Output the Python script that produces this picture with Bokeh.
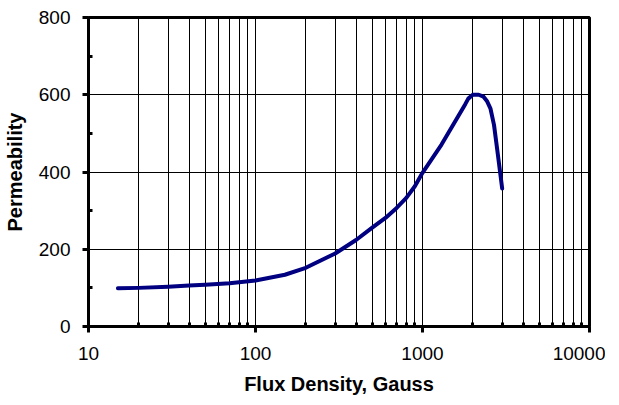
from bokeh.plotting import figure
from bokeh.models import FixedTicker, BasicTickFormatter, Range1d
from bokeh.embed import file_html
from bokeh.resources import INLINE

flux = [15, 20, 30, 40, 50, 70, 100, 150, 200, 300, 400, 500, 600, 700, 800, 900,
        1000, 1300, 1800, 1880, 2000, 2170, 2320, 2430, 2550, 2680, 2800, 3000]
perm = [99, 100, 103, 106, 108, 112, 119, 134, 152, 189, 224, 256, 281, 307, 333, 363,
        398, 471, 575, 590, 600, 600, 595, 584, 565, 522, 459, 357]

x_major = [10, 100, 1000, 10000]
x_minor = [m * d for d in (10, 100, 1000) for m in range(2, 10)]
y_major = [0, 200, 400, 600, 800]
y_minor = [100, 300, 500, 700]

FONT = "Liberation Sans"

p = figure(x_axis_type="log", x_range=Range1d(10, 10000), y_range=Range1d(0, 800),
           frame_width=501, frame_height=309, min_border_left=86, min_border_right=16,
           min_border_top=17, min_border_bottom=62,
           output_backend="svg", toolbar_location=None)

p.line(flux, perm, line_color="#000080", line_width=4, line_join="round", line_cap="round")

p.outline_line_color = "black"
p.outline_line_width = 3
p.background_fill_color = "white"
p.border_fill_color = "white"

p.xaxis.ticker = FixedTicker(ticks=x_major, minor_ticks=x_minor)
p.yaxis.ticker = FixedTicker(ticks=y_major, minor_ticks=y_minor)
p.xaxis.formatter = BasicTickFormatter(use_scientific=False)

for ax in (p.xaxis, p.yaxis):
    ax.axis_line_width = 3
    ax.axis_line_color = "black"
    ax.major_tick_line_width = 3
    ax.minor_tick_line_width = 3
    ax.major_tick_out = 6
    ax.major_tick_in = 0
    ax.minor_tick_out = 0
    ax.minor_tick_in = 4
    ax.major_label_text_font = FONT
    ax.major_label_text_font_size = "19px"
    ax.major_label_text_color = "black"
    ax.axis_label_text_font = FONT
    ax.axis_label_text_font_size = "20px"
    ax.axis_label_text_font_style = "bold"
    ax.axis_label_text_color = "black"

p.xaxis.axis_label = "Flux Density, Gauss"
p.yaxis.axis_label = "Permeability"
p.xaxis.major_label_standoff = 14
p.yaxis.major_label_standoff = 12
p.xaxis.axis_label_standoff = 10
p.yaxis.axis_label_standoff = 10

p.xgrid.grid_line_color = "black"
p.xgrid.grid_line_width = 1
p.xgrid.minor_grid_line_color = "black"
p.xgrid.minor_grid_line_width = 1
p.ygrid.grid_line_color = "black"
p.ygrid.grid_line_width = 1

open("out.html", "w").write(file_html(p, INLINE))
